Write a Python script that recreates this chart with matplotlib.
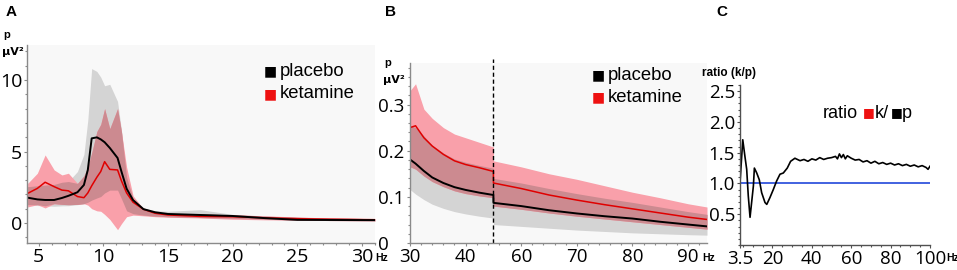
import numpy as np
import matplotlib.pyplot as plt
from matplotlib.ticker import MultipleLocator

# Panel A: 4-31 Hz power spectrum (mean and band)
freq_a = [4.15, 4.9, 5.5, 6.2, 6.8, 7.3, 8.0, 8.5, 8.8, 9.1, 9.5, 9.8, 10.1, 10.5,
          11.1, 11.4, 11.8, 12.3, 13.1, 14.0, 15.0, 17.5, 20.0, 22.5, 25.0, 27.5, 31.0]
plac_a = [1.77, 1.65, 1.61, 1.61, 1.75, 1.9, 2.15, 2.66, 3.71, 5.92, 5.99, 5.85, 5.65, 5.25,
          4.55, 3.6, 2.4, 1.6, 0.97, 0.75, 0.63, 0.56, 0.49, 0.34, 0.22, 0.21, 0.2]
plac_a_lo = [1.28, 1.22, 1.2, 1.17, 1.2, 1.21, 1.28, 1.35, 1.45, 1.6, 1.75, 1.85, 2.1, 2.3,
             2.3, 1.7, 0.85, 0.65, 0.55, 0.48, 0.44, 0.38, 0.33, 0.26, 0.2, 0.17, 0.15]
plac_a_hi = [2.54, 2.6, 2.65, 2.7, 2.85, 2.9, 3.6, 4.8, 7.2, 10.8, 10.6, 10.2, 9.6, 9.7,
             8.5, 6.5, 3.2, 1.7, 1.05, 0.85, 0.82, 0.93, 0.6, 0.48, 0.4, 0.35, 0.3]
ket_a = [2.07, 2.42, 2.85, 2.54, 2.3, 2.25, 1.85, 1.77, 2.1, 2.6, 3.2, 3.6, 4.29, 3.75,
         3.71, 2.95, 2.1, 1.45, 0.96, 0.68, 0.56, 0.46, 0.44, 0.36, 0.3, 0.26, 0.23]
ket_a_lo = [1.12, 1.28, 1.05, 1.35, 1.3, 1.28, 1.3, 1.35, 1.25, 1.0, 0.85, 0.82, 0.6, 0.25,
            -0.47, -0.05, 0.44, 0.55, 0.5, 0.44, 0.4, 0.35, 0.26, 0.22, 0.2, 0.17, 0.15]
ket_a_hi = [2.77, 3.48, 4.76, 3.71, 3.36, 3.48, 2.77, 3.3, 3.9, 4.9, 6.4, 6.9, 8.0, 6.6,
            8.0, 6.4, 3.9, 1.9, 1.0, 0.8, 0.65, 0.62, 0.58, 0.5, 0.42, 0.35, 0.3]

# Panel B: 30-95 Hz, 45-55 Hz cut out
freq_b = [30, 31, 32.5, 34, 36, 38, 40, 42.5, 45, 55, 60, 65, 70, 75, 80, 85, 90, 93.4]
plac_b = [0.181, 0.172, 0.156, 0.142, 0.13, 0.121, 0.115, 0.109, 0.104, 0.087, 0.08, 0.071,
          0.064, 0.058, 0.053, 0.046, 0.04, 0.036]
plac_b_lo = [0.116, 0.106, 0.094, 0.084, 0.075, 0.068, 0.063, 0.058, 0.054, 0.04, 0.036,
             0.032, 0.028, 0.025, 0.022, 0.02, 0.018, 0.017]
plac_b_hi = [0.255, 0.25, 0.232, 0.212, 0.195, 0.182, 0.175, 0.168, 0.162, 0.14, 0.13,
             0.118, 0.107, 0.097, 0.088, 0.078, 0.068, 0.062]
ket_b = [0.25, 0.254, 0.228, 0.21, 0.192, 0.178, 0.17, 0.163, 0.155, 0.13, 0.118, 0.104,
         0.093, 0.083, 0.074, 0.065, 0.056, 0.051]
ket_b_lo = [0.165, 0.16, 0.145, 0.133, 0.122, 0.113, 0.107, 0.102, 0.098, 0.08, 0.073,
            0.065, 0.058, 0.052, 0.046, 0.04, 0.034, 0.03]
ket_b_hi = [0.33, 0.345, 0.29, 0.27, 0.25, 0.236, 0.228, 0.218, 0.208, 0.178, 0.165, 0.15,
            0.138, 0.124, 0.11, 0.098, 0.085, 0.078]
b_ticks = [30, 40, 60, 70, 80, 90]

# Panel C: ratio ketamine / placebo
freq_c = [3.5, 4.9, 6.0, 6.9, 7.7, 8.6, 9.4, 10.3, 10.8, 12.0, 13.3, 14.5, 16.2, 17.1, 18.7,
          20.4, 22.1, 23.8, 25.5, 27.5, 29.2, 31.4, 32, 34, 36, 38, 40, 42, 44, 46, 48, 50,
          52, 53, 54, 55, 56, 57, 58, 60, 62, 64, 66, 68, 70, 72, 74, 76, 78, 80, 82, 84,
          86, 88, 90, 92, 94, 96, 98, 99, 100]
ratio_c = [1.01, 1.71, 1.44, 1.23, 0.8, 0.45, 0.69, 0.96, 1.25, 1.17, 1.06, 0.85, 0.69, 0.66,
           0.77, 0.9, 1.04, 1.15, 1.17, 1.25, 1.36, 1.41, 1.40, 1.37, 1.39, 1.36, 1.40, 1.38,
           1.42, 1.39, 1.41, 1.42, 1.44, 1.40, 1.48, 1.42, 1.47, 1.40, 1.45, 1.41, 1.38,
           1.39, 1.35, 1.37, 1.33, 1.36, 1.32, 1.34, 1.31, 1.33, 1.30, 1.32, 1.29, 1.31,
           1.28, 1.30, 1.27, 1.29, 1.26, 1.23, 1.28]

W, H = 957, 270
GRAY = '#d4d4d4'
PINK = '#f9a0aa'
OVER = '#cc8a90'
TICKFONT = 'Open Sans'
TXTFONT = 'Liberation Sans'


def px(x, y):
    return x / W, 1 - y / H


def style(ax, spine_col='#8a8a8a', bg='#f8f8f8', size=13.5):
    ax.set_facecolor(bg)
    for s in ['top', 'right']:
        ax.spines[s].set_visible(False)
    for s in ['left', 'bottom']:
        ax.spines[s].set_color(spine_col)
        ax.spines[s].set_linewidth(1.0)
    ax.tick_params(which='both', direction='out', color=spine_col, length=2, width=0.8,
                   pad=1.5, labelsize=size)
    ax.tick_params(which='minor', length=1.5)
    for lab in ax.get_xticklabels() + ax.get_yticklabels():
        lab.set_fontfamily(TICKFONT)


def bands(ax, x, plo, phi, klo, khi):
    x = np.asarray(x)
    plo, phi, klo, khi = map(np.asarray, (plo, phi, klo, khi))
    ax.fill_between(x, plo, phi, color=GRAY, lw=0)
    ax.fill_between(x, klo, khi, color=PINK, lw=0)
    lo = np.maximum(plo, klo)
    hi = np.minimum(phi, khi)
    ax.fill_between(x, lo, hi, where=hi > lo, interpolate=True, color=OVER, lw=0)


def legend(ax, xy1, xy2):
    for (x, y), col, name in [(xy1, 'black', 'placebo'), (xy2, '#ee1111', 'ketamine')]:
        fx, fy = px(x, y)
        ax.figure.text(fx, fy, '\u25a0', color=col, fontsize=10, ha='center', va='center',
                       family='DejaVu Sans')
        ax.figure.text(fx + 10 / W, fy, name, fontsize=13.3, ha='left', va='center',
                       family=TXTFONT)


fig = plt.figure(figsize=(9.57, 2.7), dpi=100)

# ---- A ----
axA = fig.add_axes([27 / W, 27 / H, 348 / W, 198 / H])
bands(axA, freq_a, plac_a_lo, plac_a_hi, ket_a_lo, ket_a_hi)
axA.plot(freq_a, ket_a, color='#e00000', lw=1.1)
axA.plot(freq_a, plac_a, color='black', lw=1.4)
axA.set_xlim(4.1, 31.0)
axA.set_ylim(-1.4, 12.45)
axA.set_xticks([5, 10, 15, 20, 25, 30])
axA.set_yticks([0, 5, 10])
axA.xaxis.set_minor_locator(MultipleLocator(1))
axA.yaxis.set_minor_locator(MultipleLocator(1))
style(axA, size=14)
legend(axA, (270, 71), (270, 94))

# ---- B ----
axB = fig.add_axes([410 / W, 27 / H, 297 / W, 180 / H])
fb = np.asarray(freq_b, dtype=float)
xb = np.where(fb <= 45, fb, fb - 10)  # close the 45-55 Hz gap
bands(axB, xb, plac_b_lo, plac_b_hi, ket_b_lo, ket_b_hi)
axB.plot(xb, ket_b, color='#e00000', lw=1.1)
axB.plot(xb, plac_b, color='black', lw=1.4)
axB.axvline(45, color='black', lw=1.0, ls=(0, (3, 2)), ymax=1.02, clip_on=False)
axB.set_xlim(30, 83.4)
axB.set_ylim(0, 0.39)
bt = np.asarray(b_ticks, dtype=float)
axB.set_xticks(np.where(bt <= 45, bt, bt - 10))
axB.set_xticklabels([str(t) for t in b_ticks])
axB.set_yticks([0, 0.1, 0.2, 0.3])
axB.set_yticklabels(['0', '0.1', '0.2', '0.3'])
axB.xaxis.set_minor_locator(MultipleLocator(2))
axB.yaxis.set_minor_locator(MultipleLocator(0.02))
style(axB)
# y labels of B are left aligned in the original
axB.tick_params(axis='y', pad=21)
for lab in axB.get_yticklabels():
    lab.set_horizontalalignment('left')
legend(axB, (598, 75), (598, 97))

# ---- C ----
axC = fig.add_axes([740 / W, 25 / H, 190 / W, 160 / H])
axC.axhline(1.0, color='#3355dd', lw=1.3)
axC.plot(freq_c, ratio_c, color='black', lw=1.2)
axC.set_xlim(3.5, 100)
axC.set_ylim(0, 2.6)
axC.set_xticks([3.5, 20, 40, 60, 80, 100])
axC.set_xticklabels(['3.5', '20', '40', '60', '80', '100'])
axC.set_yticks([0.5, 1.0, 1.5, 2.0, 2.5])
axC.set_yticklabels(['0.5', '1.0', '1.5', '2.0', '2.5'])
axC.xaxis.set_minor_locator(MultipleLocator(5))
axC.yaxis.set_minor_locator(MultipleLocator(0.1))
style(axC, spine_col='#505050', bg='white')

# ratio legend
fig.text(*px(823, 113), 'ratio', fontsize=13, ha='left', va='center', family=TXTFONT)
fig.text(*px(869, 113), '\u25a0', color='#ee1111', fontsize=9, ha='center', va='center',
         family='DejaVu Sans')
fig.text(*px(875, 113), 'k/', fontsize=13, ha='left', va='center', family=TXTFONT)
fig.text(*px(897, 113), '\u25a0', color='black', fontsize=9, ha='center', va='center',
         family='DejaVu Sans')
fig.text(*px(902, 113), 'p', fontsize=13, ha='left', va='center', family=TXTFONT)

# "Hz" after last x label
for x in [375, 702, 946]:
    fig.text(*px(x, 258), 'Hz', fontsize=7.5, fontweight='bold', ha='left', va='center',
             family=TXTFONT)

# y-axis unit labels
for x, y in [(3, 35), (384, 63)]:
    fig.text(*px(x, y), 'p', fontsize=8, fontweight='bold', ha='left', va='center',
             family=TXTFONT)
    fig.text(*px(x - 1, y + 17), '\u00b5V\u00b2', fontsize=8, fontweight='bold', ha='left',
             va='center', family='DejaVu Sans')
fig.text(*px(702, 73), 'ratio (k/p)', fontsize=8.5, fontweight='bold', ha='left',
         va='center', family=TXTFONT)

# panel letters
for x, lab in [(11, 'A'), (391, 'B'), (722, 'C')]:
    fig.text(*px(x, 12), lab, fontsize=11, fontweight='bold', ha='center', va='center',
             family=TXTFONT)

fig.savefig('out.png', dpi=100)
